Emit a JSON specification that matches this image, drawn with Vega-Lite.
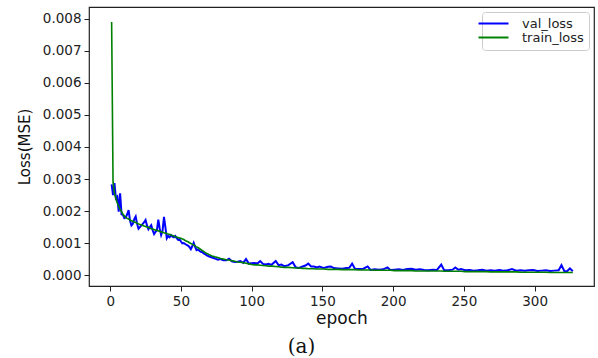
{
  "$schema": "https://vega.github.io/schema/vega-lite/v6.json",
  "width": 505,
  "height": 279,
  "autosize": {"type": "none"},
  "padding": {"left": 89, "top": 7, "right": 4, "bottom": 72},
  "background": "white",
  "config": {
    "view": {"stroke": "#222", "strokeWidth": 1.2},
    "axis": {"grid": false, "domain": false, "tickColor": "#222", "tickSize": 5, "labelColor": "#222", "titleColor": "#111", "labelFont": "DejaVu Sans", "titleFont": "DejaVu Sans", "labelFontSize": 13.5, "titleFontWeight": "normal", "labelOverlap": false}
  },
  "title": {"text": "(a)", "orient": "bottom", "font": "DejaVu Serif", "fontSize": 20, "fontWeight": "normal", "color": "#111", "offset": 10, "dx": -40},
  "data": {"values": [
    {"epoch":1,"val_loss":0.00283,"train_loss":0.0079},
    {"epoch":2,"val_loss":0.0025,"train_loss":0.0029},
    {"epoch":3,"val_loss":0.00287,"train_loss":0.00255},
    {"epoch":4,"val_loss":0.0024,"train_loss":0.0024},
    {"epoch":5,"val_loss":0.00245,"train_loss":0.00225},
    {"epoch":6,"val_loss":0.00198,"train_loss":0.00215},
    {"epoch":7,"val_loss":0.00255,"train_loss":0.00205},
    {"epoch":8,"val_loss":0.0019,"train_loss":0.00198},
    {"epoch":9,"val_loss":0.00188,"train_loss":0.0019},
    {"epoch":10,"val_loss":0.00178,"train_loss":0.00185},
    {"epoch":11,"val_loss":0.0018,"train_loss":0.0018},
    {"epoch":12,"val_loss":0.0019,"train_loss":0.00177},
    {"epoch":13,"val_loss":0.00203,"train_loss":0.00175},
    {"epoch":14,"val_loss":0.0017,"train_loss":0.00172},
    {"epoch":15,"val_loss":0.00155,"train_loss":0.0017},
    {"epoch":16,"val_loss":0.0016,"train_loss":0.00168},
    {"epoch":17,"val_loss":0.00175,"train_loss":0.00166},
    {"epoch":18,"val_loss":0.00183,"train_loss":0.00164},
    {"epoch":19,"val_loss":0.0016,"train_loss":0.00162},
    {"epoch":20,"val_loss":0.00145,"train_loss":0.0016},
    {"epoch":21,"val_loss":0.0015,"train_loss":0.00158},
    {"epoch":22,"val_loss":0.00155,"train_loss":0.00157},
    {"epoch":23,"val_loss":0.0016,"train_loss":0.00155},
    {"epoch":24,"val_loss":0.00165,"train_loss":0.00153},
    {"epoch":25,"val_loss":0.00172,"train_loss":0.00152},
    {"epoch":26,"val_loss":0.00155,"train_loss":0.0015},
    {"epoch":27,"val_loss":0.00143,"train_loss":0.00149},
    {"epoch":28,"val_loss":0.0015,"train_loss":0.00147},
    {"epoch":29,"val_loss":0.00156,"train_loss":0.00145},
    {"epoch":30,"val_loss":0.0014,"train_loss":0.00144},
    {"epoch":31,"val_loss":0.00128,"train_loss":0.00142},
    {"epoch":32,"val_loss":0.00135,"train_loss":0.00141},
    {"epoch":33,"val_loss":0.0014,"train_loss":0.0014},
    {"epoch":34,"val_loss":0.00173,"train_loss":0.00138},
    {"epoch":35,"val_loss":0.00145,"train_loss":0.00137},
    {"epoch":36,"val_loss":0.00125,"train_loss":0.00135},
    {"epoch":37,"val_loss":0.00138,"train_loss":0.00134},
    {"epoch":38,"val_loss":0.00182,"train_loss":0.00132},
    {"epoch":39,"val_loss":0.0015,"train_loss":0.00131},
    {"epoch":40,"val_loss":0.00115,"train_loss":0.0013},
    {"epoch":41,"val_loss":0.00122,"train_loss":0.00128},
    {"epoch":42,"val_loss":0.00118,"train_loss":0.00127},
    {"epoch":43,"val_loss":0.00125,"train_loss":0.00125},
    {"epoch":44,"val_loss":0.0012,"train_loss":0.00124},
    {"epoch":45,"val_loss":0.00118,"train_loss":0.00122},
    {"epoch":46,"val_loss":0.00122,"train_loss":0.0012},
    {"epoch":47,"val_loss":0.00115,"train_loss":0.00119},
    {"epoch":48,"val_loss":0.0011,"train_loss":0.00117},
    {"epoch":49,"val_loss":0.00112,"train_loss":0.00116},
    {"epoch":50,"val_loss":0.00105,"train_loss":0.00115},
    {"epoch":51,"val_loss":0.00099,"train_loss":0.00113},
    {"epoch":52,"val_loss":0.001,"train_loss":0.00111},
    {"epoch":53,"val_loss":0.00097,"train_loss":0.00108},
    {"epoch":54,"val_loss":0.00094,"train_loss":0.00106},
    {"epoch":55,"val_loss":0.00092,"train_loss":0.00104},
    {"epoch":56,"val_loss":0.00088,"train_loss":0.00101},
    {"epoch":57,"val_loss":0.00081,"train_loss":0.00099},
    {"epoch":58,"val_loss":0.0009,"train_loss":0.00096},
    {"epoch":59,"val_loss":0.00101,"train_loss":0.00094},
    {"epoch":60,"val_loss":0.00088,"train_loss":0.00091},
    {"epoch":61,"val_loss":0.00078,"train_loss":0.00088},
    {"epoch":62,"val_loss":0.0008,"train_loss":0.00086},
    {"epoch":63,"val_loss":0.00076,"train_loss":0.00083},
    {"epoch":64,"val_loss":0.00073,"train_loss":0.0008},
    {"epoch":65,"val_loss":0.00072,"train_loss":0.00077},
    {"epoch":66,"val_loss":0.00068,"train_loss":0.00074},
    {"epoch":67,"val_loss":0.00066,"train_loss":0.00071},
    {"epoch":68,"val_loss":0.00062,"train_loss":0.00068},
    {"epoch":70,"val_loss":0.00058,"train_loss":0.00064},
    {"epoch":72,"val_loss":0.00055,"train_loss":0.0006},
    {"epoch":74,"val_loss":0.00052,"train_loss":0.00057},
    {"epoch":76,"val_loss":0.00048,"train_loss":0.00055},
    {"epoch":78,"val_loss":0.0005,"train_loss":0.00052},
    {"epoch":80,"val_loss":0.00046,"train_loss":0.0005},
    {"epoch":82,"val_loss":0.00046,"train_loss":0.00048},
    {"epoch":84,"val_loss":0.00051,"train_loss":0.00047},
    {"epoch":86,"val_loss":0.00043,"train_loss":0.00045},
    {"epoch":88,"val_loss":0.00041,"train_loss":0.00043},
    {"epoch":90,"val_loss":0.00042,"train_loss":0.00041},
    {"epoch":92,"val_loss":0.00044,"train_loss":0.0004},
    {"epoch":94,"val_loss":0.00038,"train_loss":0.00039},
    {"epoch":96,"val_loss":0.0005,"train_loss":0.00037},
    {"epoch":98,"val_loss":0.00036,"train_loss":0.00035},
    {"epoch":100,"val_loss":0.00037,"train_loss":0.00033},
    {"epoch":102,"val_loss":0.00038,"train_loss":0.00032},
    {"epoch":104,"val_loss":0.00036,"train_loss":0.00032},
    {"epoch":106,"val_loss":0.00044,"train_loss":0.00031},
    {"epoch":108,"val_loss":0.00035,"train_loss":0.0003},
    {"epoch":110,"val_loss":0.00033,"train_loss":0.00029},
    {"epoch":112,"val_loss":0.00035,"train_loss":0.00028},
    {"epoch":114,"val_loss":0.00032,"train_loss":0.00028},
    {"epoch":117,"val_loss":0.00044,"train_loss":0.00027},
    {"epoch":119,"val_loss":0.00031,"train_loss":0.00026},
    {"epoch":121,"val_loss":0.00033,"train_loss":0.00025},
    {"epoch":123,"val_loss":0.00028,"train_loss":0.00024},
    {"epoch":126,"val_loss":0.00031,"train_loss":0.00024},
    {"epoch":129,"val_loss":0.0004,"train_loss":0.00023},
    {"epoch":131,"val_loss":0.00025,"train_loss":0.00022},
    {"epoch":133,"val_loss":0.00022,"train_loss":0.00022},
    {"epoch":136,"val_loss":0.00027,"train_loss":0.00021},
    {"epoch":138,"val_loss":0.0003,"train_loss":0.00021},
    {"epoch":140,"val_loss":0.00036,"train_loss":0.0002},
    {"epoch":142,"val_loss":0.00027,"train_loss":0.0002},
    {"epoch":144,"val_loss":0.00027,"train_loss":0.0002},
    {"epoch":146,"val_loss":0.00024,"train_loss":0.00019},
    {"epoch":148,"val_loss":0.00027,"train_loss":0.00019},
    {"epoch":151,"val_loss":0.00022,"train_loss":0.00019},
    {"epoch":154,"val_loss":0.00026,"train_loss":0.00018},
    {"epoch":156,"val_loss":0.00027,"train_loss":0.00018},
    {"epoch":158,"val_loss":0.00022,"train_loss":0.00018},
    {"epoch":161,"val_loss":0.00021,"train_loss":0.00018},
    {"epoch":164,"val_loss":0.0002,"train_loss":0.00017},
    {"epoch":167,"val_loss":0.00022,"train_loss":0.00017},
    {"epoch":169,"val_loss":0.00023,"train_loss":0.00017},
    {"epoch":171,"val_loss":0.00036,"train_loss":0.00017},
    {"epoch":173,"val_loss":0.0002,"train_loss":0.00017},
    {"epoch":176,"val_loss":0.00019,"train_loss":0.00016},
    {"epoch":179,"val_loss":0.0002,"train_loss":0.00016},
    {"epoch":182,"val_loss":0.00027,"train_loss":0.00016},
    {"epoch":184,"val_loss":0.00016,"train_loss":0.00016},
    {"epoch":187,"val_loss":0.00018,"train_loss":0.00015},
    {"epoch":190,"val_loss":0.00017,"train_loss":0.00015},
    {"epoch":193,"val_loss":0.00018,"train_loss":0.00015},
    {"epoch":196,"val_loss":0.00024,"train_loss":0.00015},
    {"epoch":198,"val_loss":0.00016,"train_loss":0.00015},
    {"epoch":201,"val_loss":0.00017,"train_loss":0.00014},
    {"epoch":204,"val_loss":0.00018,"train_loss":0.00014},
    {"epoch":207,"val_loss":0.00016,"train_loss":0.00014},
    {"epoch":210,"val_loss":0.00019,"train_loss":0.00014},
    {"epoch":213,"val_loss":0.0002,"train_loss":0.00014},
    {"epoch":216,"val_loss":0.00017,"train_loss":0.00013},
    {"epoch":219,"val_loss":0.00018,"train_loss":0.00013},
    {"epoch":222,"val_loss":0.00016,"train_loss":0.00013},
    {"epoch":225,"val_loss":0.00015,"train_loss":0.00013},
    {"epoch":228,"val_loss":0.00017,"train_loss":0.00013},
    {"epoch":231,"val_loss":0.00016,"train_loss":0.00013},
    {"epoch":234,"val_loss":0.00033,"train_loss":0.00013},
    {"epoch":236,"val_loss":0.00016,"train_loss":0.00012},
    {"epoch":239,"val_loss":0.00015,"train_loss":0.00012},
    {"epoch":242,"val_loss":0.00017,"train_loss":0.00012},
    {"epoch":244,"val_loss":0.00024,"train_loss":0.00012},
    {"epoch":246,"val_loss":0.00017,"train_loss":0.00012},
    {"epoch":248,"val_loss":0.00019,"train_loss":0.00012},
    {"epoch":251,"val_loss":0.00015,"train_loss":0.00011},
    {"epoch":254,"val_loss":0.00016,"train_loss":0.00011},
    {"epoch":257,"val_loss":0.00014,"train_loss":0.00011},
    {"epoch":260,"val_loss":0.00015,"train_loss":0.00011},
    {"epoch":263,"val_loss":0.00017,"train_loss":0.00011},
    {"epoch":266,"val_loss":0.00014,"train_loss":0.00011},
    {"epoch":269,"val_loss":0.00015,"train_loss":0.0001},
    {"epoch":272,"val_loss":0.00014,"train_loss":0.0001},
    {"epoch":275,"val_loss":0.00016,"train_loss":0.0001},
    {"epoch":278,"val_loss":0.00014,"train_loss":0.0001},
    {"epoch":281,"val_loss":0.00015,"train_loss":0.0001},
    {"epoch":284,"val_loss":0.00019,"train_loss":0.0001},
    {"epoch":287,"val_loss":0.00014,"train_loss":0.0001},
    {"epoch":290,"val_loss":0.00015,"train_loss":0.00009},
    {"epoch":293,"val_loss":0.00014,"train_loss":0.00009},
    {"epoch":296,"val_loss":0.00015,"train_loss":0.00009},
    {"epoch":299,"val_loss":0.00016,"train_loss":0.00009},
    {"epoch":302,"val_loss":0.00013,"train_loss":0.00009},
    {"epoch":305,"val_loss":0.00014,"train_loss":0.00009},
    {"epoch":308,"val_loss":0.00015,"train_loss":0.00009},
    {"epoch":311,"val_loss":0.00013,"train_loss":0.00008},
    {"epoch":314,"val_loss":0.00014,"train_loss":0.00008},
    {"epoch":317,"val_loss":0.00015,"train_loss":0.00008},
    {"epoch":319,"val_loss":0.00031,"train_loss":0.00008},
    {"epoch":321,"val_loss":0.00013,"train_loss":0.00008},
    {"epoch":323,"val_loss":0.00012,"train_loss":0.00008},
    {"epoch":325,"val_loss":0.00021,"train_loss":0.00008},
    {"epoch":327,"val_loss":0.00012,"train_loss":0.00008}
  ]},
  "encoding": {
    "x": {"field": "epoch", "type": "quantitative", "scale": {"domain": [-15, 342], "nice": false, "zero": false}, "axis": {"values": [0, 50, 100, 150, 200, 250, 300], "title": "epoch", "titleFontSize": 17, "titlePadding": 3, "labelPadding": 3}}
  },
  "layer": [
    {
      "mark": {"type": "line", "strokeWidth": 2, "clip": true},
      "encoding": {
        "y": {"field": "val_loss", "type": "quantitative", "scale": {"domain": [-0.00034, 0.00837], "nice": false, "zero": false}, "axis": {"values": [0, 0.001, 0.002, 0.003, 0.004, 0.005, 0.006, 0.007, 0.008], "format": ".3f", "title": "Loss(MSE)", "titleFontSize": 15, "titlePadding": 10, "labelPadding": 3}},
        "color": {"datum": "val_loss", "type": "nominal", "scale": {"domain": ["val_loss", "train_loss"], "range": ["#0000ff", "#008000"]}, "legend": {"title": null, "orient": "top-right", "offset": 5, "symbolType": "M-5,0H5", "symbolSize": 36, "symbolStrokeWidth": 2, "labelFont": "DejaVu Sans", "labelFontSize": 13, "labelColor": "#222", "padding": 5, "strokeColor": "#ccc", "cornerRadius": 3, "fillColor": "white", "rowPadding": 0, "labelOffset": 22}}
      }
    },
    {
      "mark": {"type": "line", "strokeWidth": 1.6, "clip": true},
      "encoding": {
        "y": {"field": "train_loss", "type": "quantitative", "scale": {"domain": [-0.00034, 0.00837], "nice": false, "zero": false}, "axis": {"values": [0, 0.001, 0.002, 0.003, 0.004, 0.005, 0.006, 0.007, 0.008], "format": ".3f", "title": "Loss(MSE)", "titleFontSize": 15, "titlePadding": 10, "labelPadding": 3}},
        "color": {"datum": "train_loss", "type": "nominal"}
      }
    }
  ]
}
